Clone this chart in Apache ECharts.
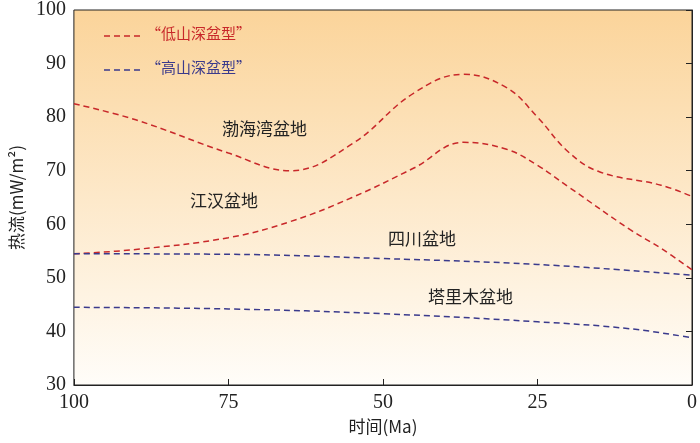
<!DOCTYPE html>
<html><head><meta charset="utf-8">
<script src="https://cdn.jsdelivr.net/npm/echarts@6/dist/echarts.min.js"></script>
<style>html,body{margin:0;background:#fff}#c{width:700px;height:443px}</style>
</head><body><div id="c"></div>
<script>
// 数据
var bohai = [[100,82.5],[90,79.5],[75,73.3],[65,70],[55,75],[45,84.5],[37,88],[30,85.5],[25,80],[20,73.5],[15,69.8],[5,67.3],[0,65.2]];
var jianghan = [[100,54.5],[90,55.3],[75,57.5],[65,60.5],[55,65],[45,70.5],[37,75.3],[30,74],[25,71],[20,67],[10,59],[5,55.5],[0,51.5]];
var sichuan = [[100,54.5],[75,54.4],[50,53.6],[25,52.5],[0,50.5]];
var tarim = [[100,44.5],[75,44.2],[50,43.3],[25,41.8],[10,40.5],[0,38.8]];
var labels = [['渤海湾盆地',222,120],['江汉盆地',190,192],['四川盆地',388,230],['塔里木盆地',428,288]];

var red = '#c8282a', blue = '#3a3a8c';
var cn = 'Noto Sans CJK SC', num = 'Liberation Serif';
function line(d, c){
	return {type:'line', data:d, smooth:0.4, symbol:'none', lineStyle:{color:c, width:1.5, type:[6,4]}};
}
var graphic = labels.map(function(l){
	return {type:'text', left:l[1], top:l[2], style:{text:l[0], font:'17px "Noto Sans CJK SC"', fill:'#222'}};
});
graphic.push(
	{type:'line', shape:{x1:104,y1:36,x2:140,y2:36}, style:{stroke:red,lineWidth:1.5,lineDash:[6,4]}},
	{type:'text', left:146, top:26, style:{text:'“低山深盆型”', font:'15px "Noto Sans CJK SC"', fill:red}},
	{type:'line', shape:{x1:104,y1:70,x2:140,y2:70}, style:{stroke:blue,lineWidth:1.5,lineDash:[6,4]}},
	{type:'text', left:146, top:60, style:{text:'“高山深盆型”', font:'15px "Noto Sans CJK SC"', fill:blue}}
);
var chart = echarts.init(document.getElementById('c'));
chart.setOption({
	animation:false,
	grid:{left:72, right:3, top:5, bottom:58,
		show:true, borderColor:'#222', borderWidth:1,
		backgroundColor:new echarts.graphic.LinearGradient(0,0,0,1,[{offset:0,color:'#fbd49a'},{offset:1,color:'#fffdf9'}])},
	xAxis:{type:'value', inverse:true, min:0, max:100, interval:25,
		name:'时间(Ma)', nameLocation:'middle', nameGap:30,
		nameTextStyle:{fontFamily:cn, fontSize:17, color:'#222'},
		axisLine:{lineStyle:{color:'#222'}}, axisTick:{inside:true, length:6, lineStyle:{color:'#222'}},
		axisLabel:{fontFamily:num, fontSize:20, color:'#222'}, splitLine:{show:false}},
	yAxis:{type:'value', min:30, max:100, interval:10,
		name:'热流(mW/m²)', nameLocation:'middle', nameGap:46,
		nameTextStyle:{fontFamily:cn, fontSize:17, color:'#222'},
		axisLine:{show:true, lineStyle:{color:'#222'}}, axisTick:{length:6, lineStyle:{color:'#222'}},
		axisLabel:{fontFamily:num, fontSize:20, color:'#222'}, splitLine:{show:false}},
	series:[line(bohai,red), line(jianghan,red), line(sichuan,blue), line(tarim,blue)],
	graphic:graphic
});
</script></body></html>
